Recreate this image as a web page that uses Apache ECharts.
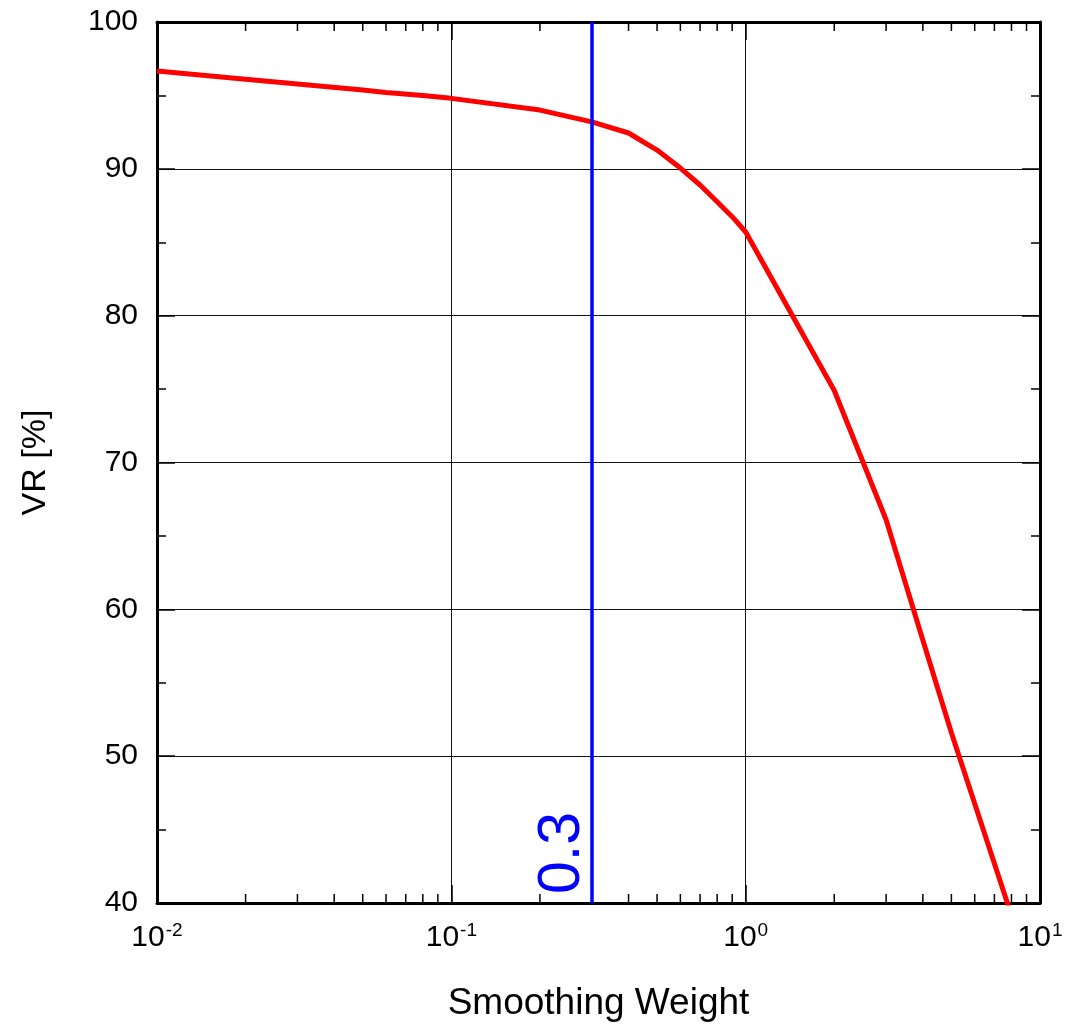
<!DOCTYPE html>
<html>
<head>
<meta charset="utf-8">
<script src="https://cdn.jsdelivr.net/npm/echarts@6/dist/echarts.min.js"></script>
<style>
html,body{margin:0;padding:0;background:#fff;}
#c{width:1066px;height:1032px;}
</style>
</head>
<body>
<div id="c"></div>
<script>
// Data
var weights = [0.01, 0.02, 0.03, 0.05, 0.06, 0.08, 0.1, 0.2, 0.3, 0.4, 0.5, 0.6, 0.7, 0.8, 0.9, 1, 2, 3, 4, 5, 8];
var vr =      [96.66, 96.1, 95.78, 95.37, 95.2, 95.0, 94.8, 94.0, 93.2, 92.44, 91.28, 90.05, 88.9, 87.76, 86.74, 85.7, 74.9, 66.1, 57.9, 51.6, 39.15];
var markerWeight = 0.3;
var markerLabel = '0.3';
var xMinorTicks = [0.02,0.03,0.04,0.05,0.06,0.07,0.08,0.09,0.2,0.3,0.4,0.5,0.6,0.7,0.8,0.9,2,3,4,5,6,7,8,9];
var xMin = 0.01, xMax = 10, yMin = 40, yMax = 100, yStep = 10;
var xTitle = 'Smoothing Weight';
var yTitle = 'VR [%]';

var FONT = '"Liberation Sans", Arial, Helvetica, sans-serif';
var chart = echarts.init(document.getElementById('c'));

function expLabel(v){
  var e = Math.round(Math.log10(v));
  return '{b|10}{s|' + e + '}';
}

var option = {
  animation: false,
  backgroundColor: '#fff',
  grid: {left: 157, right: 26, top: 22, bottom: 129, containLabel: false},
  xAxis: [{
    type: 'log', logBase: 10, min: xMin, max: xMax, position: 'bottom',
    name: xTitle, nameLocation: 'middle', nameGap: 82,
    nameTextStyle: {fontFamily: FONT, fontSize: 37, color: '#000'},
    axisLine: {lineStyle: {color: '#000', width: 3}},
    axisTick: {inside: true, length: 18, lineStyle: {color: '#000', width: 1.5}},
    axisLabel: {
      margin: 18, formatter: expLabel,
      rich: {
        b: {fontFamily: FONT, fontSize: 30, color: '#000', verticalAlign: 'bottom', lineHeight: 32},
        s: {fontFamily: FONT, fontSize: 19, color: '#000', verticalAlign: 'top', lineHeight: 32, padding:[0,0,16,1]}
      }
    },
    splitLine: {show: true, lineStyle: {color: '#111', width: 1}}
  },{
    type: 'log', logBase: 10, min: xMin, max: xMax, position: 'top',
    axisLine: {lineStyle: {color: '#000', width: 3}},
    axisTick: {inside: true, length: 18, lineStyle: {color: '#000', width: 1.5}},
    axisLabel: {show: false}, splitLine: {show: false}
  }],
  yAxis: [{
    type: 'value', min: yMin, max: yMax, interval: yStep, position: 'left',
    name: yTitle, nameLocation: 'middle', nameGap: 104, nameRotate: 90,
    nameTextStyle: {fontFamily: FONT, fontSize: 34, color: '#000'},
    axisLine: {lineStyle: {color: '#000', width: 3}},
    axisTick: {inside: true, length: 18, lineStyle: {color: '#000', width: 1.5}},
    minorTick: {show: true, splitNumber: 2, length: 9, lineStyle: {color: '#000', width: 1.5}},
    axisLabel: {margin: 19, fontFamily: FONT, fontSize: 30, color: '#000'},
    splitLine: {show: true, lineStyle: {color: '#111', width: 1}}
  },{
    type: 'value', min: yMin, max: yMax, interval: yStep, position: 'right',
    axisLine: {show: true, lineStyle: {color: '#000', width: 3}},
    axisTick: {show: true, inside: true, length: 18, lineStyle: {color: '#000', width: 1.5}},
    minorTick: {show: true, splitNumber: 2, length: 9, lineStyle: {color: '#000', width: 1.5}},
    axisLabel: {show: false}, splitLine: {show: false}
  }],
  series: [{
    type: 'custom', xAxisIndex: 0, yAxisIndex: 0, silent: true, z: 1,
    data: xMinorTicks.map(function(v){return [v];}),
    renderItem: function(params, api){
      var x = api.coord([api.value(0), yMin])[0];
      var yb = api.coord([xMin, yMin])[1];
      var yt = api.coord([xMin, yMax])[1];
      var st = {stroke: '#000', lineWidth: 1.5};
      return {type: 'group', children: [
        {type: 'line', shape: {x1: x, y1: yb, x2: x, y2: yb - 9}, style: st},
        {type: 'line', shape: {x1: x, y1: yt, x2: x, y2: yt + 9}, style: st}
      ]};
    }
  },{
    type: 'line', xAxisIndex: 0, yAxisIndex: 0, z: 2,
    data: weights.map(function(w, i){return [w, vr[i]];}),
    showSymbol: false, symbol: 'none', clip: true,
    lineStyle: {color: '#ff0000', width: 5}
  },{
    type: 'line', xAxisIndex: 0, yAxisIndex: 0, z: 3, data: [],
    markLine: {
      silent: true, symbol: 'none', animation: false,
      lineStyle: {color: '#0000ff', width: 3.5, type: 'solid'},
      label: {
        show: true, formatter: markerLabel, position: 'insideStartTop',
        fontFamily: FONT, fontSize: 59, color: '#0000ff', distance: [9, 0]
      },
      data: [{xAxis: markerWeight}]
    }
  }]
};
chart.setOption(option);
</script>
</body>
</html>
